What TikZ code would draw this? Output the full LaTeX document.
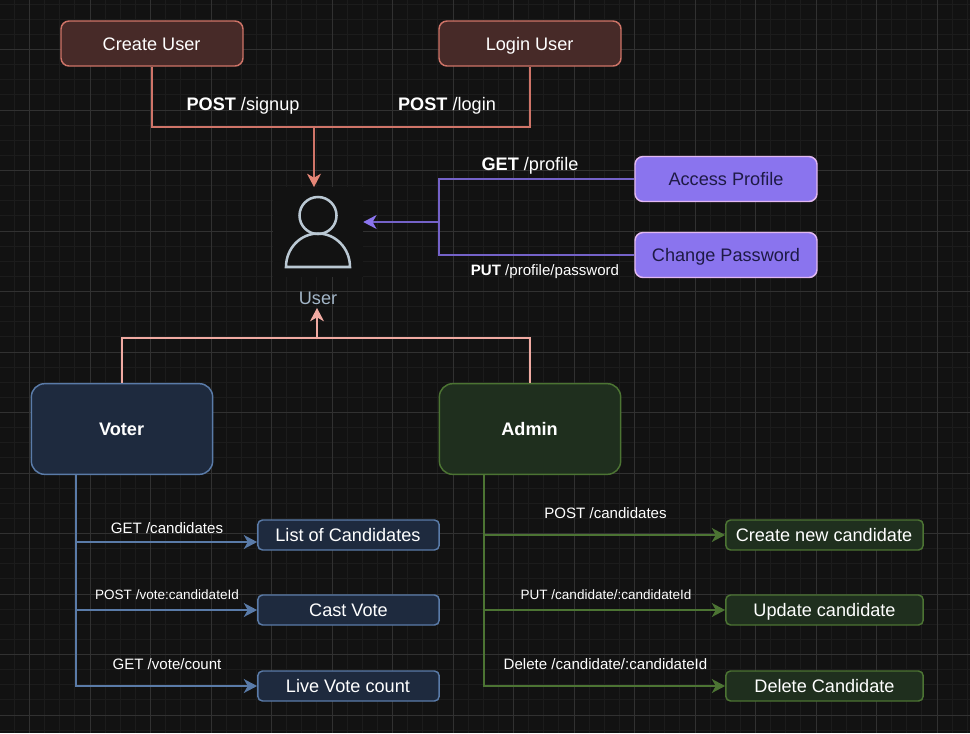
\documentclass[tikz,border=0pt]{standalone}
\usepackage{fontspec}
\setmainfont{Liberation Sans}
\usetikzlibrary{arrows.meta}
\definecolor{bgc}{HTML}{121212}
\definecolor{gminor}{HTML}{1C1C1C}
\definecolor{gmajor}{HTML}{313131}
\definecolor{redfill}{HTML}{472A28}
\definecolor{redline}{HTML}{CF7468}
\definecolor{redtip}{HTML}{E58677}
\definecolor{pinkline}{HTML}{F0AAA2}
\definecolor{purfill}{HTML}{8A74EE}
\definecolor{purline}{HTML}{E2B8F2}
\definecolor{purwire}{HTML}{7462C8}
\definecolor{purtext}{HTML}{1E1A45}
\definecolor{bluefill}{HTML}{1E2A3E}
\definecolor{blueline}{HTML}{5A7BA8}
\definecolor{greenfill}{HTML}{1F2F1E}
\definecolor{greenline}{HTML}{4C7433}
\definecolor{iconc}{HTML}{BAC8D3}
\definecolor{usertext}{HTML}{A3B6C8}
\tikzset{
  x=0.75pt,y=-0.75pt,
  fixbig/.style={text height=9.8pt,text depth=0pt},
  boxbase/.style={rounded corners=6pt,line width=1.1pt,inner sep=0pt,text=white,font=\fontsize{13.6pt}{16pt}\selectfont,align=center,minimum height=33.75pt,fixbig},
  redbox/.style={boxbase,draw=redline,fill=redfill,minimum width=136.5pt},
  purbox/.style={boxbase,draw=purline,fill=purfill,text=purtext,minimum width=136.5pt},
  rolebox/.style={boxbase,minimum width=136pt,minimum height=68pt,rounded corners=10pt,font=\fontsize{13.6pt}{16pt}\selectfont\bfseries},
  voterrole/.style={rolebox,draw=blueline,fill=bluefill},
  adminrole/.style={rolebox,draw=greenline,fill=greenfill},
  smallbase/.style={boxbase,minimum height=22.5pt,rounded corners=3.5pt},
  vbox/.style={smallbase,draw=blueline,fill=bluefill,minimum width=136pt},
  abox/.style={smallbase,draw=greenline,fill=greenfill,minimum width=148pt},
  biglabel/.style={text=white,inner sep=0pt,font=\fontsize{13.6pt}{16pt}\selectfont,fixbig},
  midlabel/.style={text=white,inner sep=0pt,font=\fontsize{11.3pt}{14pt}\selectfont,text height=8.1pt,text depth=0pt},
  tinylabel/.style={text=white,inner sep=0pt,font=\fontsize{10.15pt}{13pt}\selectfont,text height=7.5pt,text depth=0pt},
  wire/.style={line width=1.1pt},
  tipped/.style={-{Stealth[length=10pt,width=10.5pt,inset=3pt,#1]}},
}
\begin{document}
\begin{tikzpicture}
\useasboundingbox (0,0) rectangle (970,733);
\fill[bgc] (0,0) rectangle (970,733);
% grid
\foreach \k in {0,...,64} {
  \pgfmathsetmacro{\gx}{floor(-0.75+15.125*\k)+0.5}
  \draw[gminor,line width=0.75pt] (\gx,0) -- (\gx,733);
  \pgfmathsetmacro{\gy}{floor(4.125+15.125*\k)+0.5}
  \draw[gminor,line width=0.75pt] (0,\gy) -- (970,\gy);
}
\foreach \k in {0,...,16} {
  \pgfmathsetmacro{\gx}{floor(29.5+60.5*\k)+0.5}
  \draw[gmajor,line width=0.75pt] (\gx,0) -- (\gx,733);
  \pgfmathsetmacro{\gy}{floor(49.5+60.5*\k)+0.5}
  \draw[gmajor,line width=0.75pt] (0,\gy) -- (970,\gy);
}
% nodes
\node[redbox] (create) at (152,43.5) {\kern-0.6pt Create User};
\node[redbox] (login) at (530,43.5) {\kern-0.6pt Login User};
\node[purbox] (access) at (726,179) {Access Profile};
\node[purbox] (passwd) at (726,255) {Change Password};
\node[voterrole] (voter) at (122,429) {\kern-0.6pt Voter};
\node[adminrole] (admin) at (530,429) {\kern-0.6pt Admin};
\node[vbox] (list) at (348.5,535) {\kern-0.8pt List of Candidates};
\node[vbox] (cast) at (348.5,610) {Cast Vote};
\node[vbox] (live) at (348.5,686) {\kern-0.8pt Live Vote count};
\node[abox] (newc) at (824.5,535) {\kern-0.8pt Create new candidate};
\node[abox] (updc) at (824.5,610) {Update candidate};
\node[abox] (delc) at (824.5,686) {Delete Candidate};
% user icon
\node[fill=bgc,minimum size=67.5pt,inner sep=0pt] (usericon) at (318,232) {};
\draw[iconc,line width=1.9pt] (318,215.5) circle (18.5);
\draw[iconc,line width=1.9pt,line join=miter] (286,267) arc[start angle=180,end angle=0,x radius=32,y radius=-33.5] -- cycle;
\node[biglabel,text=usertext] (usertxt) at (318,297.5) {User};
% junctions
\coordinate (redjoin) at (314,127);
\coordinate (redtipc) at (314,187);
\coordinate (purjoin) at (439,222);
\coordinate (purtip) at (usericon.east |- purjoin);
\coordinate (pinkjoin) at (317,338);
\coordinate (pinktip) at (317,308);
\coordinate (vstem) at ([xshift=-34.5pt]voter.south);
\coordinate (astem) at ([xshift=-34.5pt]admin.south);
\coordinate (listin) at ([yshift=-5.25pt]list.west);
\coordinate (newcin) at (newc.west);
% red connectors
\draw[wire,redline] (create.south) |- (redjoin);
\draw[wire,redline] (login.south) |- (redjoin);
\draw[wire,redline,tipped={redtip}] (redjoin) -- (redtipc);
% purple connectors
\draw[wire,purwire] (access.west) -| (purjoin);
\draw[wire,purwire] (passwd.west) -| (purjoin);
\draw[wire,purwire,tipped={purfill}] (purjoin) -- (purtip);
% pink connectors
\draw[wire,pinkline] (voter.north) |- (pinkjoin);
\draw[wire,pinkline] (admin.north) |- (pinkjoin);
\draw[wire,pinkline,tipped={pinkline}] (pinkjoin) -- (pinktip);
% voter
\draw[wire,blueline,tipped={blueline}] (vstem) |- (listin);
\draw[wire,blueline,tipped={blueline}] (vstem) |- (cast.west);
\draw[wire,blueline,tipped={blueline}] (vstem) |- (live.west);
% admin
\draw[wire,greenline,tipped={greenline}] (astem) |- (newcin);
\draw[wire,greenline,tipped={greenline}] (astem) |- (updc.west);
\draw[wire,greenline,tipped={greenline}] (astem) |- (delc.west);
% labels
\node[biglabel] (l1) at (243,104) {\textbf{POST} /signup};
\node[biglabel] (l2) at (447,104) {\textbf{POST} /login};
\node[biglabel] (l3) at (530,164) {\textbf{GET} /profile};
\node[midlabel] (l4) at (545,270) {\textbf{PUT} /profile/password};
\node[midlabel] (l5) at (167,528) {GET /candidates};
\node[tinylabel] (l6) at (167,594) {POST /vote:candidateId};
\node[midlabel] (l7) at (167,664) {GET /vote/count};
\node[midlabel] (l8) at (605.5,513) {POST /candidates};
\node[tinylabel] (l9) at (606,594) {PUT /candidate/:candidateId};
\node[midlabel] (l10) at (605.5,664) {Delete /candidate/:candidateId};
\end{tikzpicture}
\end{document}
